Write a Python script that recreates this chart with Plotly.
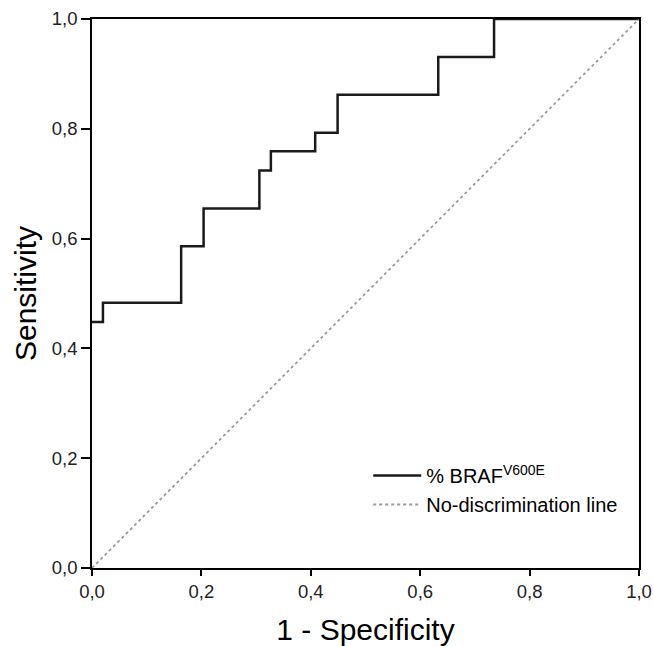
import plotly.graph_objects as go

# ROC step curve
fpr = [0.0, 0.020, 0.163, 0.204, 0.306, 0.327, 0.408, 0.449, 0.633, 0.735, 1.0]
tpr = [0.448, 0.483, 0.586, 0.655, 0.724, 0.759, 0.793, 0.862, 0.931, 1.0, 1.0]

# Reference (no-discrimination) line
ref_x = [0.0, 1.0]
ref_y = [0.0, 1.0]

tick_vals = [0.0, 0.2, 0.4, 0.6, 0.8, 1.0]
tick_text = ["0,0", "0,2", "0,4", "0,6", "0,8", "1,0"]

series_names = ["% BRAF<sup>V600E</sup>", "No-discrimination line"]

fig = go.Figure()
fig.add_trace(go.Scatter(
    x=fpr, y=tpr, mode="lines", line_shape="hv",
    line=dict(color="#1a1a1a", width=2.5),
    name=series_names[0],
))
fig.add_trace(go.Scatter(
    x=ref_x, y=ref_y, mode="lines",
    line=dict(color="#9a9a9a", width=1.8, dash="dot"),
    name=series_names[1],
))

tickfont = dict(family="Liberation Sans Narrow, Arial Narrow, Liberation Sans, Arial", size=18.5, color="#222222")
titlefont = dict(family="Liberation Sans, Arial", size=30, color="#000000")

fig.update_layout(
    width=653, height=646,
    margin=dict(l=92, r=14, t=19, b=78),
    paper_bgcolor="white", plot_bgcolor="white",
    showlegend=True,
    legend=dict(
        x=0.505, y=0.204, xanchor="left", yanchor="top",
        bgcolor="rgba(0,0,0,0)",
        font=dict(family="Liberation Sans, Arial", size=20, color="#000000"),
        itemwidth=48,
        tracegroupgap=0,
    ),
    xaxis=dict(
        range=[0, 1], tickvals=tick_vals, ticktext=tick_text,
        showgrid=False, zeroline=False, automargin=False,
        showline=True, linecolor="#000000", linewidth=1.5, mirror=True,
        ticks="outside", ticklen=6, tickwidth=1.5, tickcolor="#000000",
        tickfont=tickfont,
        title=dict(text="1 - Specificity", font=titlefont, standoff=20),
    ),
    yaxis=dict(
        range=[0, 1], tickvals=tick_vals, ticktext=tick_text,
        showgrid=False, zeroline=False, automargin=False,
        showline=True, linecolor="#000000", linewidth=1.5, mirror=True,
        ticks="outside", ticklen=9, tickwidth=1.5, tickcolor="#000000",
        tickfont=tickfont,
        title=dict(text="Sensitivity", font=titlefont, standoff=6),
    ),
)

# remove the page's default body margin so the figure fills the window exactly
fig.write_html(
    "out.html",
    config={"displayModeBar": False},
    post_script="document.body.style.margin='0';document.body.style.overflow='hidden';",
)
